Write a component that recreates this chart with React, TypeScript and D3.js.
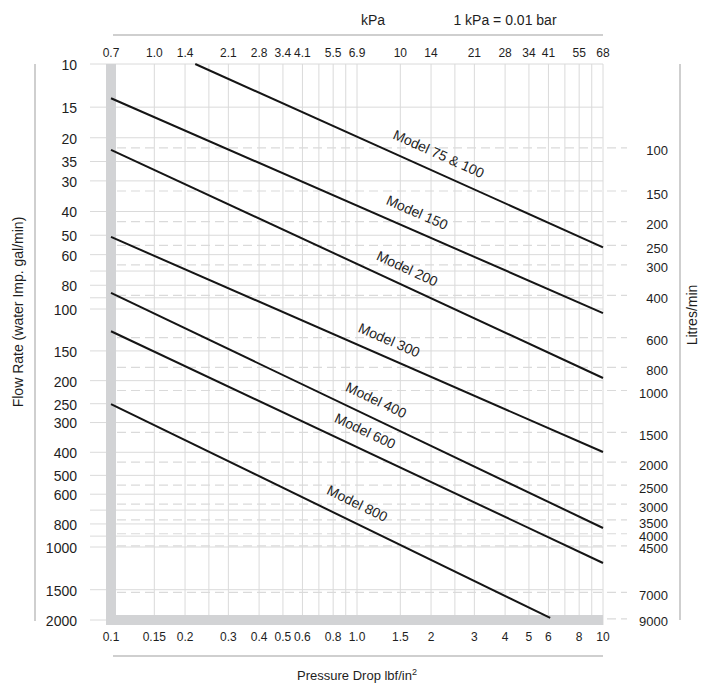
import React, { useEffect, useRef } from 'react';
import * as d3 from 'd3';

// pressure drop, lbf/in2 (bottom) and the matching kPa labels (top)
const psiTicks = [0.1, 0.15, 0.2, 0.3, 0.4, 0.5, 0.6, 0.8, 1, 1.5, 2, 3, 4, 5, 6, 8, 10];
const psiLabels = ['0.1', '0.15', '0.2', '0.3', '0.4', '0.5', '0.6', '0.8', '1.0', '1.5', '2', '3', '4', '5', '6', '8', '10'];
const kpaLabels = ['0.7', '1.0', '1.4', '2.1', '2.8', '3.4', '4.1', '5.5', '6.9', '10', '14', '21', '28', '34', '41', '55', '68'];
const psiGrid = [0.1, 0.15, 0.2, 0.25, 0.3, 0.4, 0.5, 0.6, 0.7, 0.8, 0.9, 1, 1.5, 2, 2.5, 3, 4, 5, 6, 7, 8, 9, 10];

// flow rate, imp. gal/min (left). label for 25 is printed "35" on the original
const flowTicks = [10, 15, 20, 25, 30, 40, 50, 60, 80, 100, 150, 200, 250, 300, 400, 500, 600, 800, 1000, 1500, 2000];
const flowLabels = ['10', '15', '20', '35', '30', '40', '50', '60', '80', '100', '150', '200', '250', '300', '400', '500', '600', '800', '1000', '1500', '2000'];
const flowGrid = [10, 15, 20, 25, 30, 40, 50, 60, 70, 80, 90, 100, 150, 200, 250, 300, 400, 500, 600, 700, 800, 900, 1000, 1500, 2000];

// litres/min (right)
const litreTicks = [100, 150, 200, 250, 300, 400, 600, 800, 1000, 1500, 2000, 2500, 3000, 3500, 4000, 4500, 7000, 9000];
const LITRES_PER_GAL = 4.546;

// model lines: [psi, gal/min] end points, plus the psi where the label starts
const models = ['Model 75 & 100', 'Model 150', 'Model 200', 'Model 300', 'Model 400', 'Model 600', 'Model 800'];
const modelStart = [[0.22, 10], [0.1, 13.8], [0.1, 22.4], [0.1, 50.8], [0.1, 86], [0.1, 124], [0.1, 251]];
const modelEnd = [[10, 56], [10, 104], [10, 195], [10, 399], [10, 832], [10, 1164], [6.1, 1960]];
const labelPsi = [1.32, 1.24, 1.13, 0.955, 0.845, 0.762, 0.708];

const FONT = 'Liberation Sans, Arial, Helvetica, sans-serif';
const GRID = '#dadada';
const BAND = '#d2d3d5';
const FRAME = '#cfcfcf';
const TEXT = '#1e1e1e';

export default function App() {
  const ref = useRef<SVGSVGElement | null>(null);

  useEffect(() => {
    const svg = d3.select(ref.current);
    svg.selectAll('*').remove();

    const x = d3.scaleLog().domain([0.1, 10]).range([111, 603]);
    const y = d3.scaleLog().domain([10, 100, 1000, 2000]).range([64, 309, 547, 620]);

    const x0 = x(0.1), x1 = x(10), y0 = y(10), y1 = y(2000);

    // vertical grid
    svg.append('g').selectAll('line')
      .data(psiGrid)
      .enter().append('line')
      .attr('x1', d => x(d)).attr('x2', d => x(d))
      .attr('y1', y0).attr('y2', y1 + 5)
      .attr('stroke', GRID).attr('stroke-width', 1);

    // horizontal grid (gal/min)
    svg.append('g').selectAll('line')
      .data(flowGrid)
      .enter().append('line')
      .attr('x1', x0 - 21).attr('x2', x1)
      .attr('y1', d => y(d)).attr('y2', d => y(d))
      .attr('stroke', GRID).attr('stroke-width', 1);

    // dashed grid (litres/min)
    svg.append('g').selectAll('line')
      .data(litreTicks)
      .enter().append('line')
      .attr('x1', x0 + 6).attr('x2', x1 + 24)
      .attr('y1', d => y(d / LITRES_PER_GAL)).attr('y2', d => y(d / LITRES_PER_GAL))
      .attr('stroke', GRID).attr('stroke-width', 1.2)
      .attr('stroke-dasharray', '9 5');

    // thick grey axes
    svg.append('line')
      .attr('x1', x0).attr('x2', x0).attr('y1', y0).attr('y2', y1 + 5)
      .attr('stroke', BAND).attr('stroke-width', 10);
    svg.append('line')
      .attr('x1', x0 - 5).attr('x2', x1).attr('y1', y1).attr('y2', y1)
      .attr('stroke', BAND).attr('stroke-width', 10);

    // outer frame lines
    svg.append('line').attr('x1', 35).attr('x2', 35).attr('y1', y0).attr('y2', y1 + 1)
      .attr('stroke', FRAME).attr('stroke-width', 2);
    svg.append('line').attr('x1', 680).attr('x2', 680).attr('y1', y0).attr('y2', y1)
      .attr('stroke', FRAME).attr('stroke-width', 2);
    svg.append('line').attr('x1', x0 + 2).attr('x2', x1).attr('y1', 35).attr('y2', 35)
      .attr('stroke', FRAME).attr('stroke-width', 2);
    svg.append('line').attr('x1', x0 + 2).attr('x2', x1).attr('y1', 656).attr('y2', 656)
      .attr('stroke', FRAME).attr('stroke-width', 2);

    // model lines
    const lines = svg.append('g');
    models.forEach((name, i) => {
      const s = modelStart[i], e = modelEnd[i];
      lines.append('line')
        .attr('x1', x(s[0])).attr('y1', y(s[1]))
        .attr('x2', x(e[0])).attr('y2', y(e[1]))
        .attr('stroke', '#151515').attr('stroke-width', 2);

      const angle = Math.atan2(y(e[1]) - y(s[1]), x(e[0]) - x(s[0])) * 180 / Math.PI;
      const slope = (Math.log10(e[1]) - Math.log10(s[1])) / (Math.log10(e[0]) - Math.log10(s[0]));
      const lp = labelPsi[i];
      const lf = Math.pow(10, Math.log10(s[1]) + slope * (Math.log10(lp) - Math.log10(s[0])));
      lines.append('text')
        .attr('transform', 'translate(' + x(lp) + ',' + y(lf) + ') rotate(' + angle + ')')
        .attr('dy', -13)
        .attr('font-family', FONT).attr('font-size', 14).attr('fill', TEXT)
        .text(name);
    });

    // bottom labels
    svg.append('g').selectAll('text')
      .data(psiTicks)
      .enter().append('text')
      .attr('x', d => x(d)).attr('y', 641)
      .attr('text-anchor', 'middle')
      .attr('font-family', FONT).attr('font-size', 12).attr('fill', TEXT)
      .text((d, i) => psiLabels[i]);

    // top labels (kPa)
    svg.append('g').selectAll('text')
      .data(psiTicks)
      .enter().append('text')
      .attr('x', d => x(d)).attr('y', 57)
      .attr('text-anchor', 'middle')
      .attr('font-family', FONT).attr('font-size', 12).attr('fill', TEXT)
      .text((d, i) => kpaLabels[i]);

    // left labels
    svg.append('g').selectAll('text')
      .data(flowTicks)
      .enter().append('text')
      .attr('x', 77).attr('y', d => y(d) + 1).attr('dy', '0.35em')
      .attr('text-anchor', 'end')
      .attr('font-family', FONT).attr('font-size', 14).attr('fill', TEXT)
      .text((d, i) => flowLabels[i]);

    // right labels
    svg.append('g').selectAll('text')
      .data(litreTicks)
      .enter().append('text')
      .attr('x', 668).attr('y', d => y(d / LITRES_PER_GAL) + 3).attr('dy', '0.35em')
      .attr('text-anchor', 'end')
      .attr('font-family', FONT).attr('font-size', 13).attr('fill', TEXT)
      .text(d => String(d));

    // titles
    svg.append('text')
      .attr('x', 373).attr('y', 25).attr('text-anchor', 'middle')
      .attr('font-family', FONT).attr('font-size', 14).attr('fill', TEXT)
      .text('kPa');
    svg.append('text')
      .attr('x', 505).attr('y', 25).attr('text-anchor', 'middle')
      .attr('font-family', FONT).attr('font-size', 14).attr('fill', TEXT)
      .text('1 kPa = 0.01 bar');

    const xt = svg.append('text')
      .attr('x', 357).attr('y', 680).attr('text-anchor', 'middle')
      .attr('font-family', FONT).attr('font-size', 13).attr('fill', TEXT);
    xt.append('tspan').text('Pressure Drop lbf/in');
    xt.append('tspan').attr('font-size', 9).attr('dy', -5).text('2');

    svg.append('text')
      .attr('transform', 'translate(23,312) rotate(-90)')
      .attr('text-anchor', 'middle')
      .attr('font-family', FONT).attr('font-size', 14).attr('fill', TEXT)
      .text('Flow Rate (water Imp. gal/min)');

    svg.append('text')
      .attr('transform', 'translate(697,315) rotate(-90)')
      .attr('text-anchor', 'middle')
      .attr('font-family', FONT).attr('font-size', 14).attr('fill', TEXT)
      .text('Litres/min');
  }, []);

  return (
    <svg ref={ref} width={701} height={684}
      style={{ position: 'absolute', left: 0, top: 0, background: '#fff' }} />
  );
}
